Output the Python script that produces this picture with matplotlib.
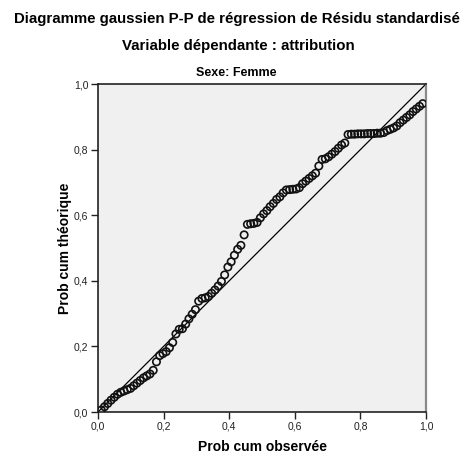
import numpy as np
import matplotlib
matplotlib.use("Agg")
import matplotlib.pyplot as plt
from matplotlib.ticker import FuncFormatter

plt.rcParams['font.family'] = ['Liberation Sans', 'DejaVu Sans']

# titles / labels
title1 = "Diagramme gaussien P-P de régression de Résidu standardisé"
title2 = "Variable dépendante : attribution"
panel = "Sexe: Femme"
xlab = "Prob cum observée"
ylab = "Prob cum théorique"
ticks = [0.0, 0.2, 0.4, 0.6, 0.8, 1.0]

# theoretical cumulative probabilities, sorted
prob_theo = [
    0.006, 0.016, 0.026, 0.036, 0.045, 0.054, 0.060, 0.064, 0.068, 0.072,
    0.080, 0.088, 0.096, 0.104, 0.110, 0.116, 0.127, 0.153, 0.172, 0.178,
    0.184, 0.196, 0.212, 0.238, 0.252, 0.254, 0.268, 0.284, 0.298, 0.312,
    0.338, 0.346, 0.348, 0.352, 0.362, 0.372, 0.384, 0.398, 0.418, 0.442,
    0.458, 0.478, 0.496, 0.508, 0.540, 0.572, 0.574, 0.575, 0.578, 0.592,
    0.604, 0.614, 0.626, 0.636, 0.648, 0.656, 0.668, 0.677, 0.678, 0.679,
    0.680, 0.684, 0.696, 0.704, 0.712, 0.720, 0.728, 0.750, 0.770, 0.772,
    0.778, 0.786, 0.794, 0.804, 0.814, 0.820, 0.846, 0.847, 0.847, 0.848,
    0.848, 0.848, 0.849, 0.849, 0.849, 0.850, 0.850, 0.852, 0.858, 0.862,
    0.866, 0.872, 0.882, 0.890, 0.898, 0.906, 0.916, 0.924, 0.932, 0.940,
]

n = len(prob_theo)
# observed cumulative probability = rank / (n + 1)
prob_obs = np.arange(1, n + 1) / (n + 1)

fig = plt.figure(figsize=(4.69, 4.54), dpi=100)
ax = fig.add_axes([98 / 469, 42 / 454, 328 / 469, 328 / 454])
ax.set_facecolor('#f0f0f0')

ax.plot([0, 1], [0, 1], color='black', lw=0.9, zorder=2)
ax.scatter(prob_obs, prob_theo, s=28, facecolors='none', edgecolors='#111111',
           linewidths=1.2, zorder=3)

ax.set_xlim(0, 1)
ax.set_ylim(0, 1)
ax.set_xticks(ticks)
ax.set_yticks(ticks)
fmt = FuncFormatter(lambda v, p: "{:.1f}".format(v).replace('.', ','))
ax.xaxis.set_major_formatter(fmt)
ax.yaxis.set_major_formatter(fmt)
ax.tick_params(direction='out', length=5, width=1, labelsize=7.5, pad=2, colors='#222222')

for side in ['left', 'bottom', 'top']:
    ax.spines[side].set_color('#222222')
    ax.spines[side].set_linewidth(1.2)
ax.spines['right'].set_color('#8a8a8a')
ax.spines['right'].set_linewidth(1.6)

ax.set_xlabel(xlab, fontsize=10, fontweight='bold', labelpad=6)
ax.set_ylabel(ylab, fontsize=10, fontweight='bold', labelpad=1)

fig.text(236.5 / 469, 1 - 19 / 454, title1, ha='center', va='center', fontsize=10.8, fontweight='bold')
fig.text(238.5 / 469, 1 - 46 / 454, title2, ha='center', va='center', fontsize=10.8, fontweight='bold')
fig.text(236 / 469, 1 - 73 / 454, panel, ha='center', va='center', fontsize=9, fontweight='bold')

fig.savefig("out.png", dpi=100, facecolor='white')
